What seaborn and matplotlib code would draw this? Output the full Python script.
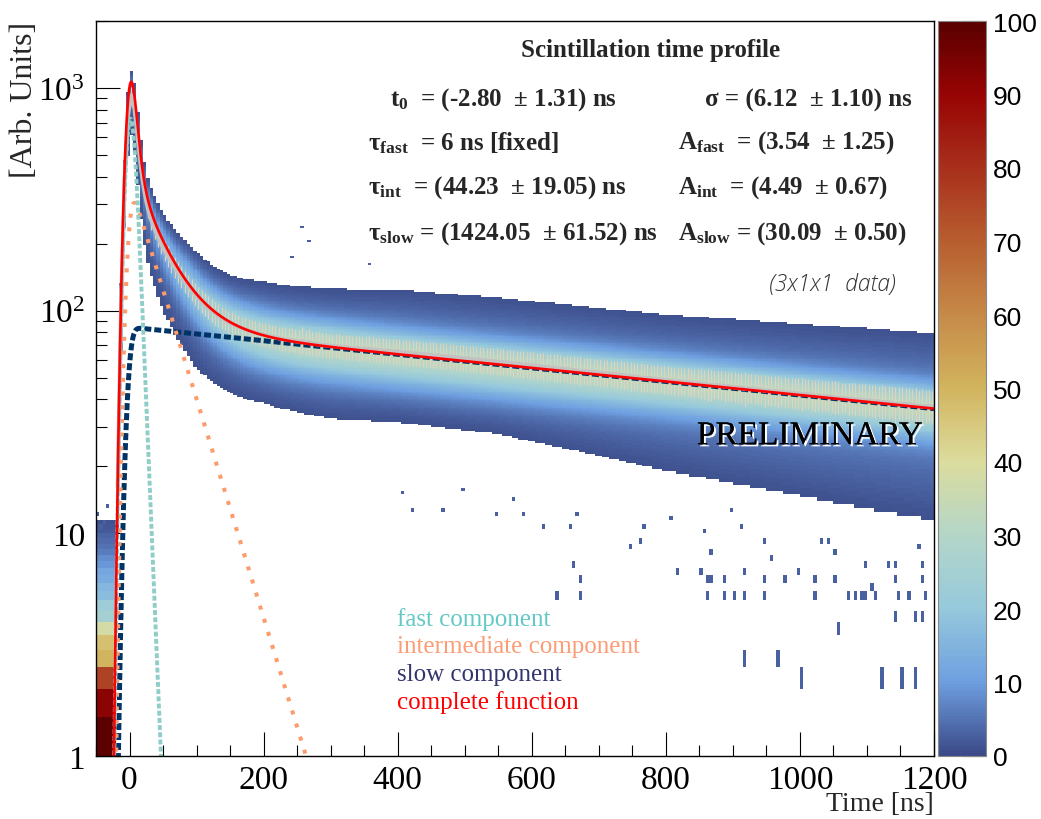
import numpy as np
import pandas as pd
import matplotlib
matplotlib.use("Agg")
import matplotlib.pyplot as plt
import seaborn as sns
from math import erfc
from matplotlib.colors import LinearSegmentedColormap
from matplotlib import patheffects as pe
from matplotlib.ticker import FixedLocator, FixedFormatter, NullFormatter

# ---------------------------------------------------------------------------
# Fit result: three exponentials convolved with a gaussian time response
# ---------------------------------------------------------------------------
T0 = -2.80
SIGMA = 6.12
components = ["fast", "int", "slow"]
tau_values = [6.0, 44.23, 1424.05]
amp_values = [3.54, 4.49, 30.09]
NORM = 4000.0  # overall normalisation of the fit function

# ---------------------------------------------------------------------------
# Waveform-collection histogram (counts per 0.5-unit amplitude bin)
# ---------------------------------------------------------------------------
band_time = [-20, 0, 20, 50, 100, 200, 300, 400, 550, 800, 1100, 1200]
band_upper = [0.05, 0.04, 0.08, 0.11, 0.17, 0.24, 0.26, 0.29, 0.30, 0.30, 0.33, 0.34]
band_lower = [0.25, 0.22, 0.26, 0.31, 0.33, 0.30, 0.32, 0.30, 0.31, 0.40, 0.48, 0.50]
CORE_COUNTS = 28.0
SHOULDER_COUNTS = 5.0

# pre-trigger baseline, amplitude bins of 0.5 starting at 1.0
baseline_counts = [130, 92, 76, 50, 47, 38, 25, 23, 17, 16, 13, 12, 9, 8,
                   6, 5, 4, 3.5, 2, 1.6, 1.2, 0.0, 0.0, 0.0, 0.0, 0.0]

# isolated single-entry bins (time [ns], amplitude)
stray_cells = [
    (408, 15.3), (421, 12.9), (468, 12.9), (497, 15.6), (550, 12.4), (572, 14.3),
    (587, 12.4), (617, 11.0), (640, 5.3), (657, 10.8), (664, 7.4), (669, 12.4),
    (672, 6.35), (672, 5.4), (749, 8.8), (764, 9.4), (769, 10.8), (806, 11.6),
    (816, 6.8), (851, 6.8), (856, 10.5), (861, 6.35), (864, 5.35), (869, 8.4),
    (869, 6.35), (888, 6.35), (889, 5.35), (896, 12.9), (901, 5.35), (911, 10.8),
    (917, 5.35), (917, 2.62), (920, 6.8), (946, 6.35), (946, 9.4), (947, 5.4),
    (956, 7.95), (969, 2.62), (976, 6.35), (1000, 6.8), (1001, 2.13), (1024, 5.4),
    (1025, 6.35), (1035, 9.4), (1045, 9.3), (1055, 6.35), (1055, 8.4), (1059, 3.66),
    (1072, 5.35), (1083, 5.35), (1093, 5.4), (1099, 5.35), (1100, 7.4), (1110, 5.8),
    (1112, 5.4), (1123, 2.13), (1132, 7.4), (1141, 4.24), (1142, 7.4), (1145, 6.35),
    (1147, 5.4), (1152, 2.13), (1165, 5.35), (1172, 4.24), (1173, 2.13), (1177, 8.8),
    (1182, 6.35), (1185, 7.5), (1185, 4.24), (1189, 5.4),
    (243, 174), (258, 237), (269, 205), (358, 162),
    (-45, 12.2), (-35, 11.3), (-30, 13.4), (-40, 10.8),
]
STRAY_COUNTS = 3.0

x_ticks = [0, 200, 400, 600, 800, 1000, 1200]
y_ticks = [1, 10, 100, 1000]
y_tick_labels = ["1", "10", r"$\mathregular{10^{2}}$", r"$\mathregular{10^{3}}$"]
z_ticks = list(range(0, 101, 10))

palette_pos = [0.0, 0.1, 0.2, 0.3, 0.4, 0.5, 0.6, 0.7, 0.8, 0.9, 1.0]
palette_col = ["#3b4a88", "#6e9fe0", "#96c9dc", "#b4d6c8", "#dcdc9e", "#d2b45e",
               "#c68a48", "#b85e30", "#a8301c", "#980404", "#5a0000"]

legend_entries = [("fast component", "#62c9c4"),
                  ("intermediate component", "#fc9c74"),
                  ("slow component", "#33356e"),
                  ("complete function", "#ff0000")]

FAST_COLOR = "#8ecdc8"
INT_COLOR = "#fd9b6b"
SLOW_COLOR = "#003366"
TOTAL_COLOR = "#ff0000"

# ---------------------------------------------------------------------------
_erfc = np.vectorize(erfc)


def component(t, tau, amp):
    t = np.asarray(t, dtype=float)
    arg = (SIGMA ** 2 / tau - (t - T0)) / (SIGMA * np.sqrt(2.0))
    return NORM * amp / (2.0 * tau) * np.exp(SIGMA ** 2 / (2.0 * tau ** 2) - (t - T0) / tau) * _erfc(arg)


def total(t):
    return sum(component(t, tau, a) for tau, a in zip(tau_values, amp_values))


sns.set_theme(style="ticks")
plt.rcParams.update({
    "font.family": ["Liberation Serif", "DejaVu Serif"],
    "mathtext.default": "regular",
    "axes.linewidth": 1.0,
    "axes.edgecolor": "black",
    "xtick.direction": "in",
    "ytick.direction": "in",
    "xtick.color": "black",
    "ytick.color": "black",
})

W, H = 1041, 820
fig = plt.figure(figsize=(W / 100, H / 100), dpi=100)
fig.patch.set_facecolor("white")


def fx(px):
    return px / W


def fy(py):
    return 1.0 - py / H


ax = fig.add_axes([fx(96), fy(757), (934 - 96) / W, (757 - 22) / H])
cax = fig.add_axes([fx(938), fy(757), (986 - 938) / W, (757 - 22) / H])
ax.set_facecolor("white")

# ---- 2D histogram -----------------------------------------------------------
t_edges = np.arange(-50.0, 1200.0 + 1e-9, 5.0)
t_mid = 0.5 * (t_edges[1:] + t_edges[:-1])
v_edges = np.concatenate([np.arange(0.5, 20.0, 0.5),
                          np.logspace(np.log10(20.0), np.log10(2000.0), 251)])
v_mid = np.sqrt(v_edges[1:] * v_edges[:-1])

fit_mid = np.maximum(total(t_mid), 1e-12)
d = np.log10(v_mid[:, None] / fit_mid[None, :])
up = np.interp(t_mid, band_time, band_upper)[None, :]
lo = np.interp(t_mid, band_time, band_lower)[None, :]
edge = np.where(d > 0, up, lo)
damp = np.clip(70.0 / fit_mid, 0.0, 1.0) ** 0.8
shoulder = np.maximum(SHOULDER_COUNTS * damp, 1.6)[None, :]
core_w = np.where(d > 0, np.minimum(0.07, 0.45 * up), 0.09)
counts = (CORE_COUNTS * damp[None, :] * np.exp(-0.5 * (d / core_w) ** 2)
          + shoulder * np.exp(-np.log(shoulder / 1.0) * np.abs(d / edge) ** 3.5))

pre_trigger = t_mid < -20.0
for k, c in enumerate(baseline_counts):
    iy = np.searchsorted(v_edges, 1.0 + 0.5 * k + 0.25) - 1
    counts[iy, pre_trigger] = c

for t, v in stray_cells:
    ix = np.searchsorted(t_edges, t) - 1
    iy = np.searchsorted(v_edges, v) - 1
    counts[iy, ix] = max(counts[iy, ix], STRAY_COUNTS)

counts_masked = np.ma.masked_less(counts, 1.0)
cmap = LinearSegmentedColormap.from_list("temperature", list(zip(palette_pos, palette_col)))
mesh = ax.pcolormesh(t_edges, v_edges, counts_masked, cmap=cmap, vmin=0, vmax=100,
                     shading="flat", rasterized=True, antialiased=False, zorder=1)

# ---- profile of the histogram (mean and spread in each time bin) ----------
widths = (v_edges[1:] - v_edges[:-1])[:, None] / 0.5
wts = np.where(counts >= 1.0, counts, 0.0) * widths
logv = np.log10(v_mid)[:, None]
sel = t_mid >= -18.0
wsum = wts.sum(axis=0)
prof_mean = (wts * logv).sum(axis=0) / np.maximum(wsum, 1e-9)
prof_rms = np.sqrt((wts * (logv - prof_mean) ** 2).sum(axis=0) / np.maximum(wsum, 1e-9))
pt = t_mid[sel]
pm = prof_mean[sel]
ps = prof_rms[sel] * 0.55
ax.vlines(pt, 10 ** (pm - ps), 10 ** (pm + ps), colors="#dcd5bd", lw=0.9, zorder=2)

# ---- fit components ---------------------------------------------------------
t_curve = np.linspace(-50.0, 1200.0, 5001)
curves = pd.DataFrame({"t": t_curve})
for name, tau, a in zip(components, tau_values, amp_values):
    curves[name] = np.maximum(component(t_curve, tau, a), 1e-3)
curves["total"] = curves[components].sum(axis=1)

sns.lineplot(data=curves, x="t", y="slow", ax=ax, color=SLOW_COLOR, lw=3.6,
             linestyle=(0, (1.4, 0.6)), estimator=None, sort=False, zorder=2.5)
ax.plot(pt, 10 ** pm, color="#c2c2c2", lw=3.0, zorder=3)
sns.lineplot(data=curves, x="t", y="int", ax=ax, color=INT_COLOR, lw=2.9,
             linestyle=(0, (1.0, 2.4)), estimator=None, sort=False, zorder=5)
sns.lineplot(data=curves, x="t", y="fast", ax=ax, color=FAST_COLOR, lw=2.8,
             linestyle=(0, (1.25, 0.6)), estimator=None, sort=False, zorder=5)
sns.lineplot(data=curves, x="t", y="total", ax=ax, color=TOTAL_COLOR, lw=1.9,
             estimator=None, sort=False, zorder=7)

# ---- axes -------------------------------------------------------------------
ax.set_yscale("log")
ax.set_xlim(-50, 1200)
ax.set_ylim(1, 2000)
ax.set_xlabel("")
ax.set_ylabel("")
ax.xaxis.set_major_locator(FixedLocator(x_ticks))
ax.xaxis.set_minor_locator(FixedLocator(np.arange(-50, 1201, 50)))
ax.set_xticklabels([str(v) for v in x_ticks])
ax.yaxis.set_major_locator(FixedLocator(y_ticks))
ax.yaxis.set_major_formatter(FixedFormatter(y_tick_labels))
ax.yaxis.set_minor_locator(FixedLocator([m * 10 ** e for e in range(0, 4) for m in range(2, 10)]))
ax.yaxis.set_minor_formatter(NullFormatter())
ax.tick_params(which="major", length=17, width=0.8, labelsize=24, pad=6)
ax.tick_params(which="minor", length=8, width=0.8)
ax.tick_params(axis="y", which="major", pad=8)
for sp in ax.spines.values():
    sp.set_visible(True)
    sp.set_linewidth(1.0)
    sp.set_zorder(10)

# ---- colour scale -----------------------------------------------------------
cbar = fig.colorbar(mesh, cax=cax)
cbar.set_ticks(z_ticks)
cbar.ax.tick_params(direction="in", length=18, width=0.8, pad=5, labelsize=19, right=True)
for lab in cbar.ax.get_yticklabels():
    lab.set_family("Liberation Sans")
cbar.outline.set_edgecolor("#888888")
cbar.outline.set_linewidth(0.8)

# ---- labels -----------------------------------------------------------------
fig.text(fx(25), fy(22), "[Arb. Units]", rotation=90, ha="center", va="top", fontsize=23)
fig.text(fx(934), fy(805), "Time [ns]", ha="right", va="center", fontsize=20)

fig.text(fx(651), fy(50), "Scintillation time profile", ha="center", va="center",
         fontsize=18, fontweight="bold")
param_rows = [
    (390, 100, r"$\mathregular{t_{0}}$  = (-2.80  ± 1.31) ns"),
    (705, 100, "σ = (6.12  ± 1.10) ns"),
    (368, 143, r"$\mathregular{\tau_{fast}}$  = 6 ns [fixed]"),
    (678, 143, r"$\mathregular{A_{fast}}$  = (3.54  ± 1.25)"),
    (368, 188, r"$\mathregular{\tau_{int}}$  = (44.23  ± 19.05) ns"),
    (678, 188, r"$\mathregular{A_{int}}$  = (4.49  ± 0.67)"),
    (368, 234, r"$\mathregular{\tau_{slow}}$ = (1424.05  ± 61.52) ns"),
    (678, 234, r"$\mathregular{A_{slow}}$ = (30.09  ± 0.50)"),
]
for x, y, s in param_rows:
    fig.text(fx(x), fy(y), s, ha="left", va="center", fontsize=18, fontweight="bold")

fig.text(fx(832), fy(285), "(3x1x1  data)", ha="center", va="center", fontsize=16.5,
         family="Open Sans", style="italic", fontweight="light", color="#333333")

prelim = fig.text(fx(810), fy(437), "PRELIMINARY", ha="center", va="center", fontsize=24,
                  color="black")
prelim.set_path_effects([pe.withSimplePatchShadow(offset=(1.5, -1.5), shadow_rgbFace="white",
                                                   alpha=1.0), pe.Normal()])

for i, (label, col) in enumerate(legend_entries):
    fig.text(fx(397), fy(620 + 27.5 * i), label, ha="left", va="center", fontsize=18, color=col)

fig.savefig("out.png", dpi=100, facecolor="white")
